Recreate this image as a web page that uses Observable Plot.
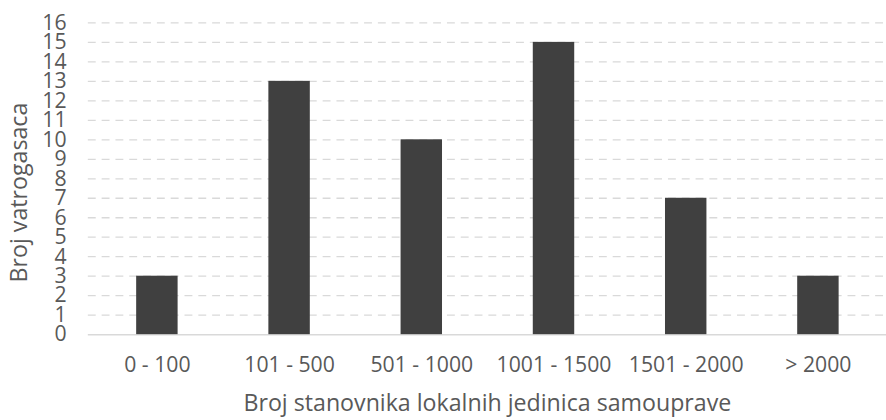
<!DOCTYPE html>
<html>
<head>
<meta charset="utf-8">
<script src="https://cdn.jsdelivr.net/npm/d3@7"></script>
<script src="https://cdn.jsdelivr.net/npm/@observablehq/plot@0.6"></script>
<style>
  html, body { margin: 0; padding: 0; background: #fff; overflow: hidden; }
  #chart { width: 886px; height: 420px; overflow: hidden; }
  #chart svg { display: block; }
</style>
</head>
<body>
<div id="chart"></div>
<script>
const categories = ["0 - 100", "101 - 500", "501 - 1000", "1001 - 1500", "1501 - 2000", "> 2000"];
const values = [3, 13, 10, 15, 7, 3];
const yTicks = d3.range(0, 17);
const yTitle = "Broj vatrogasaca";
const xTitle = "Broj stanovnika lokalnih jedinica samouprave";

const data = categories.map((c, i) => ({category: c, value: values[i]}));

const textColor = "#595959";
const chart = Plot.plot({
  width: 898,
  height: 420,
  marginLeft: 89,
  marginRight: 0,
  marginTop: 22.7,
  marginBottom: 81.3,
  style: {fontFamily: "'Open Sans', sans-serif", fontSize: "21.5px", color: textColor, background: "#fff", overflow: "visible"},
  x: {domain: categories, paddingInner: 0.69, paddingOuter: 0.345, label: null},
  y: {domain: [0, 16], label: null},
  marks: [
    Plot.gridY(yTicks.filter(d => d > 0), {stroke: "#d9d9d9", strokeOpacity: 1, strokeWidth: 1.3, strokeDasharray: "8,6"}),
    Plot.ruleY([0], {stroke: "#d9d9d9", strokeWidth: 1.5}),
    Plot.barY(data, {x: "category", y: "value", fill: "#404040"}),
    Plot.axisY(yTicks, {tickSize: 0, tickPadding: 22, label: null, fill: textColor, fontSize: 21.5}),
    Plot.axisX({tickSize: 0, tickPadding: 23, label: null, fill: textColor, fontSize: 21.5}),
    Plot.text([yTitle], {frameAnchor: "left", textAnchor: "middle", lineAnchor: "middle", dx: -69.7, dy: 14, rotate: -90, fill: textColor, fontSize: 23.5}),
    Plot.text([xTitle], {frameAnchor: "bottom", textAnchor: "middle", lineAnchor: "middle", dy: 69.5, dx: 0, fill: textColor, fontSize: 23.5})
  ]
});
document.getElementById("chart").appendChild(chart);
</script>
</body>
</html>
